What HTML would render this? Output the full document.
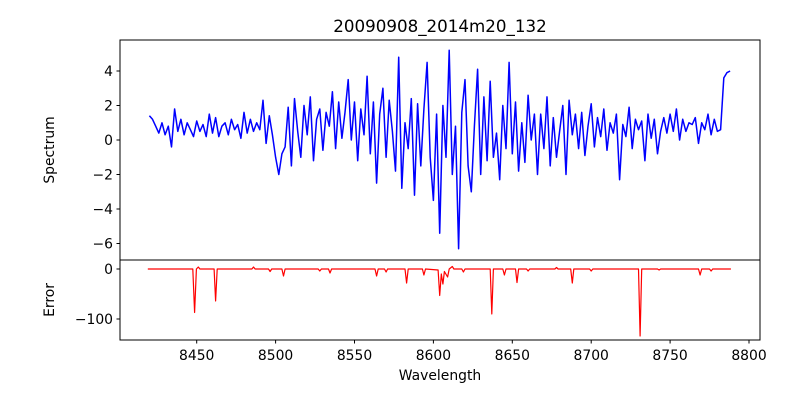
<!DOCTYPE html>
<html><head><meta charset="utf-8"><style>
body{margin:0;background:#fff;}
svg text{font-family:"DejaVu Sans","Liberation Sans",sans-serif;fill:#000;}
</style></head><body>
<svg id="chart" width="800" height="400" xmlns="http://www.w3.org/2000/svg">
<rect width="800" height="400" fill="#fff"/>
<text x="440" y="32" font-size="16.7" text-anchor="middle">20090908_2014m20_132</text>
<g id="topPanel"></g>
<g id="botPanel"></g>
<text transform="translate(54,150) rotate(-90)" font-size="13.9" text-anchor="middle">Spectrum</text>
<text transform="translate(54,300) rotate(-90)" font-size="13.9" text-anchor="middle">Error</text>
<text x="440" y="380" font-size="13.9" text-anchor="middle">Wavelength</text>
</svg>
<script>
const specStart = 8420;
const specStep = 2;
const specValues = [1.4,1.2,0.8,0.4,1.0,0.3,0.8,-0.4,1.8,0.5,1.2,0.3,1.0,0.6,0.2,1.1,0.5,0.9,0.2,1.5,0.4,1.3,0.2,0.8,1.0,0.3,1.2,0.6,0.9,0.1,1.6,0.4,1.2,0.5,1.0,0.6,2.3,-0.2,1.4,0.3,-1.0,
-2.0,-0.8,-0.4,1.9,-1.5,2.4,0.5,-1.0,2.0,0.3,2.5,-1.2,1.2,1.8,-0.6,1.6,0.8,2.8,-0.5,2.2,0.1,1.6,3.5,0.0,2.2,
-1.2,1.8,0.3,3.7,-0.8,2.2,-2.5,1.5,3.0,-1.0,2.3,0.5,-1.8,4.8,-2.8,1.0,-0.5,2.4,-3.2,2.1,-1.5,1.8,4.5,-1.0,-3.5,
1.5,-5.4,2.0,-1.0,5.2,-2.0,0.8,-6.3,1.6,3.5,-1.5,-3.0,0.8,4.1,-2.0,2.5,-1.2,3.4,-1.0,0.4,-2.3,2.0,-0.5,4.5,-0.8,
2.2,-1.8,1.0,-1.3,2.6,0.0,1.5,-2.0,1.5,-0.5,2.5,-1.5,1.3,-1.0,0.5,2.0,-2.0,2.3,0.3,1.5,-0.5,1.6,-0.9,0.8,2.1,
-0.4,1.3,0.2,1.8,-0.6,1.0,0.4,1.5,-2.3,0.9,0.2,1.9,-0.5,1.2,0.6,1.1,-1.2,1.5,0.1,1.2,-0.8,0.5,1.3,0.4,1.5,
0.5,1.8,0.0,1.2,0.5,1.0,0.9,1.3,-0.2,1.0,0.6,1.5,0.3,1.2,0.5,0.6,3.6,3.9,4.0];
const errWave = [8419,8447.5,8448.7,8449.8,8451,8452,8461,8462,8463,8485,8486,8487,8495.5,8496.5,8497.5,8504,8505,8506,8527,8528,8529,8533.5,8534.5,8535.5,8563,8564,8565,8569,8570,8571,8582,8583,8584,8593,8594,8595,8603,8604,8605,8606,8607,8609,8610,8612,8613,8618,8619,8620,8636,8637,8638,8644,8645,8646,8652,8653,8654,8659,8660,8661,8677,8678,8679,8687,8688,8689,8699,8700,8701,8730,8731,8732,8742,8743,8744,8768,8769,8770,8775,8776,8777,8788.5];
const errValues = [0,0,-87,0,4,0,0,-64,0,0,4,0,0,-5,0,0,-14,0,0,-4,0,0,-8,0,0,-14,0,0,-6,0,0,-28,0,0,-12,0,-2,-53,-10,-30,-5,-16,0,5,0,0,-6,0,0,-90,0,0,-12,0,0,-27,0,0,-4,0,0,3,0,0,-28,0,0,-4,0,0,-134,0,0,-2,0,0,-12,0,0,-4,0,0];
const xTicks = [8450,8500,8550,8600,8650,8700,8750,8800];
const topTicks = [4,2,0,-2,-4,-6];
const botTicks = [0,-100];

const NS="http://www.w3.org/2000/svg";
const L=120,R=760;
const xs=w=>196.7+(w-8450)*1.578;
const ysTop=v=>140-v*17.25;
const ysBot=v=>269-v*0.5;
function mk(tag,attrs,parent){const e=document.createElementNS(NS,tag);for(const k in attrs)e.setAttribute(k,attrs[k]);parent.appendChild(e);return e;}
const topG=document.getElementById('topPanel'),botG=document.getElementById('botPanel');

let d='';
specValues.forEach((v,i)=>{const w=specStart+i*specStep;d+=(i?'L':'M')+xs(w).toFixed(1)+','+ysTop(v).toFixed(1);});
const sp=mk('path',{d:d,fill:'none',stroke:'#0000ff','stroke-width':1.5,'stroke-linejoin':'round'},topG);


let d2='';
errWave.forEach((w,i)=>{d2+=(i?'L':'M')+xs(w).toFixed(1)+','+ysBot(errValues[i]).toFixed(1);});
const er=mk('path',{d:d2,fill:'none',stroke:'#ff0000','stroke-width':1.2,'stroke-linejoin':'round'},botG);



const f1=mk('rect',{x:L,y:40,width:R-L,height:220,fill:'none',stroke:'#000','stroke-width':1},topG);


const f2=mk('rect',{x:L,y:260,width:R-L,height:80,fill:'none',stroke:'#000','stroke-width':1},botG);



topTicks.forEach(t=>{const y=ysTop(t);
 const ln=mk('line',{x1:L-3.5,x2:L,y1:y,y2:y,stroke:'#000'},topG);
 
 
 const tx=mk('text',{x:L-7,y:y+5,'font-size':13.9,'text-anchor':'end'},topG);tx.textContent=t<0?'\u2212'+(-t):t;
 
 
});
botTicks.forEach(t=>{const y=ysBot(t);
 const ln=mk('line',{x1:L-3.5,x2:L,y1:y,y2:y,stroke:'#000'},botG);
 
 
 const tx=mk('text',{x:L-7,y:y+5,'font-size':13.9,'text-anchor':'end'},botG);tx.textContent=t<0?'\u2212'+(-t):t;
 
 
});
xTicks.forEach(t=>{const x=xs(t);
 const ln=mk('line',{x1:x,x2:x,y1:340,y2:343.5,stroke:'#000'},botG);
 
 
 const tx=mk('text',{x:x,y:360,'font-size':13.9,'text-anchor':'middle'},botG);tx.textContent=t;
 
 
});
</script>
</body></html>
